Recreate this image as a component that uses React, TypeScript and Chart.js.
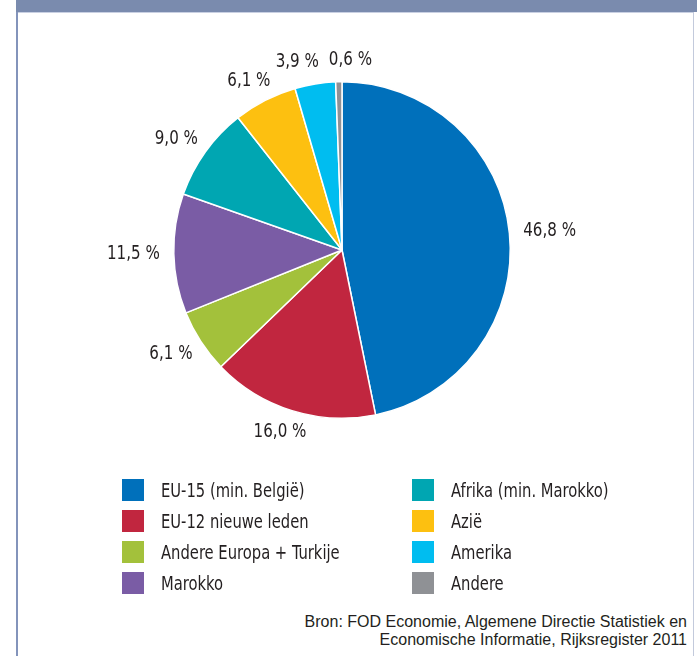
import React, { useEffect, useRef } from "react";
import { Chart, registerables } from "chart.js";

Chart.register(...registerables);

const categories = [
  "EU-15 (min. België)",
  "EU-12 nieuwe leden",
  "Andere Europa + Turkije",
  "Marokko",
  "Afrika (min. Marokko)",
  "Azië",
  "Amerika",
  "Andere",
];
const shares = [46.8, 16.0, 6.1, 11.5, 9.0, 6.1, 3.9, 0.6];
const sliceLabels = ["46,8 %", "16,0 %", "6,1 %", "11,5 %", "9,0 %", "6,1 %", "3,9 %", "0,6 %"];
const sliceColors = [
  "#0070bb",
  "#c1263f",
  "#a3c13b",
  "#7a5ca5",
  "#00a6b2",
  "#fdc010",
  "#00bdf0",
  "#8f9195",
];
const sourceLines = [
  "Bron: FOD Economie, Algemene Directie Statistiek en",
  "Economische Informatie, Rijksregister 2011",
];

const NARROW = '"Liberation Sans Narrow", "DejaVu Sans Condensed", "Roboto", sans-serif';
const REGULAR = '"Liberation Sans", "Open Sans", sans-serif';
const TEXT = "#231f20";
const SQUEEZE_LABEL = 0.84;
const SQUEEZE_LEGEND = 0.82;

const outsideLabels = {
  id: "outsideLabels",
  afterDatasetsDraw(chart: any) {
    const ctx = chart.ctx as CanvasRenderingContext2D;
    const meta = chart.getDatasetMeta(0);
    const gap = 14;
    const h = 16;
    ctx.save();
    ctx.font = `20px ${NARROW}`;
    const boxes = meta.data.map((arc: any, i: number) => {
      const p = arc.getProps(["x", "y", "startAngle", "endAngle", "outerRadius"], true);
      const mid = (p.startAngle + p.endAngle) / 2;
      const dx = Math.cos(mid);
      const dy = Math.sin(mid);
      const text = sliceLabels[i];
      const w = ctx.measureText(text).width * SQUEEZE_LABEL;
      const px = p.x + dx * (p.outerRadius + gap);
      const py = p.y + dy * (p.outerRadius + gap);
      return { cx: px + (dx * w) / 2, cy: py + (dy * h) / 2, w, h, text };
    });
    for (let it = 0; it < 20; it++) {
      for (let i = 0; i < boxes.length; i++) {
        for (let j = i + 1; j < boxes.length; j++) {
          const a = boxes[i];
          const b = boxes[j];
          const ox = (a.w + b.w) / 2 + 10 - Math.abs(a.cx - b.cx);
          const oy = (a.h + b.h) / 2 - Math.abs(a.cy - b.cy);
          if (ox > 0 && oy > 0) {
            const s = a.cx >= b.cx ? 1 : -1;
            a.cx += (s * ox) / 2;
            b.cx -= (s * ox) / 2;
          }
        }
      }
    }
    ctx.fillStyle = TEXT;
    ctx.textAlign = "center";
    ctx.textBaseline = "middle";
    boxes.forEach((b: any) => {
      ctx.save();
      ctx.translate(b.cx, b.cy);
      ctx.scale(SQUEEZE_LABEL, 1);
      ctx.fillText(b.text, 0, 0);
      ctx.restore();
    });
    ctx.restore();
  },
};

function PieChart() {
  const ref = useRef<HTMLCanvasElement | null>(null);
  useEffect(() => {
    if (!ref.current) return;
    const chart = new Chart(ref.current, {
      type: "pie",
      data: {
        labels: categories,
        datasets: [
          {
            data: shares,
            backgroundColor: sliceColors,
            borderColor: "#ffffff",
            borderWidth: 1.5,
          },
        ],
      },
      options: {
        animation: false,
        responsive: false,
        devicePixelRatio: 1,
        layout: { padding: { left: 155, right: 155, top: 69, bottom: 69 } },
        plugins: {
          legend: { display: false },
          tooltip: { enabled: false },
        },
      },
      plugins: [outsideLabels],
    });
    return () => chart.destroy();
  }, []);
  return (
    <canvas
      ref={ref}
      width={648}
      height={476}
      style={{ position: "absolute", left: 18, top: 12, width: 648, height: 476 }}
    />
  );
}

export default function App() {
  return (
    <div
      style={{
        position: "absolute",
        left: 0,
        top: 0,
        width: 697,
        height: 656,
        background: "#ffffff",
        overflow: "hidden",
      }}
    >
      <div style={{ position: "absolute", left: 16, top: 0, width: 681, height: 12, background: "#7a8bae" }} />
      <div style={{ position: "absolute", left: 18, top: 12, width: 676, height: 1, background: "#c9d0e2" }} />
      <div style={{ position: "absolute", left: 16, top: 12, width: 2, height: 644, background: "#8394bb" }} />
      <div style={{ position: "absolute", left: 693, top: 12, width: 1, height: 644, background: "#c3cadc" }} />
      <PieChart />
      <div
        style={{
          position: "absolute",
          left: 122,
          top: 479,
          display: "grid",
          gridAutoFlow: "column",
          gridTemplateRows: "repeat(4, 31px)",
          gridTemplateColumns: "290px 260px",
          fontFamily: NARROW,
          fontSize: 20,
          color: TEXT,
        }}
      >
        {categories.map((c, i) => (
          <div key={c} style={{ display: "flex", alignItems: "flex-start", height: 31 }}>
            <div style={{ width: 22, height: 22, background: sliceColors[i], flex: "none" }} />
            <div
              style={{
                marginLeft: 17,
                lineHeight: "22px",
                whiteSpace: "nowrap",
                transform: `scaleX(${SQUEEZE_LEGEND})`,
                transformOrigin: "left center",
              }}
            >
              {c}
            </div>
          </div>
        ))}
      </div>
      <div
        style={{
          position: "absolute",
          right: 10,
          top: 613,
          textAlign: "right",
          fontFamily: REGULAR,
          fontSize: 16,
          lineHeight: "18px",
          color: TEXT,
          whiteSpace: "nowrap",
        }}
      >
        {sourceLines.map((l) => (
          <div key={l}>{l}</div>
        ))}
      </div>
    </div>
  );
}
